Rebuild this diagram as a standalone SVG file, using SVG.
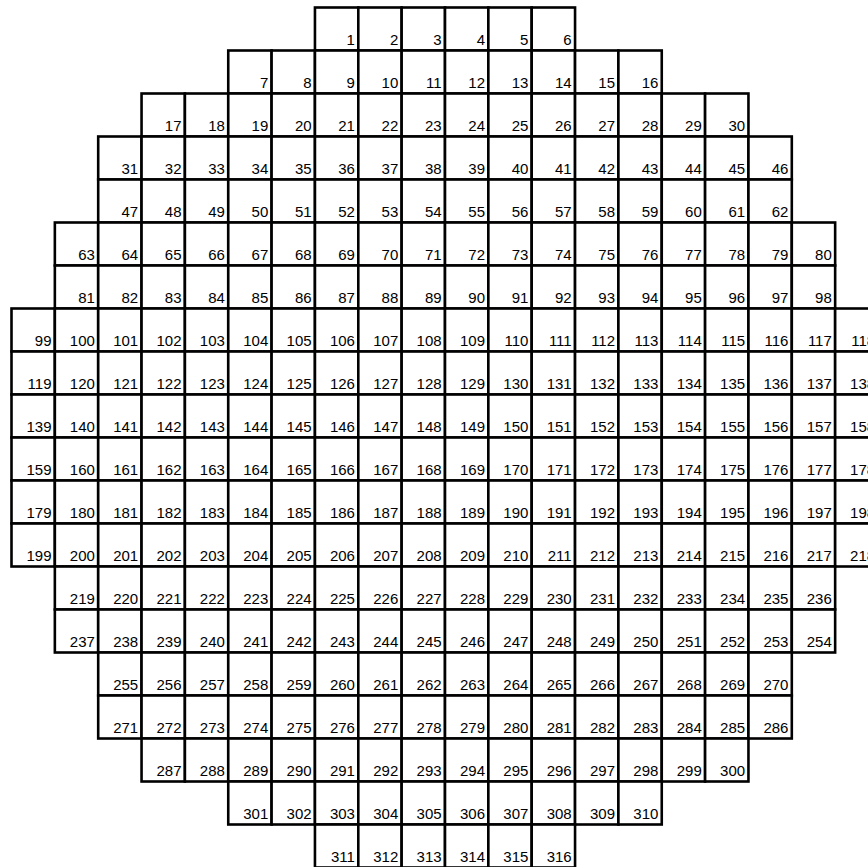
<svg xmlns="http://www.w3.org/2000/svg" width="868" height="867" viewBox="0 0 868 867">
<style>
.c text{font-family:"Liberation Sans",Arial,sans-serif;font-size:15px;fill:#000;text-anchor:end}
</style>
<defs><rect id="b" width="43.35" height="43" fill="#fff" stroke="#000" stroke-width="2.6"/></defs>
<rect width="868" height="867" fill="#fff"/>
<g id="grid" class="c">
<g id="row1" transform="translate(0,7.5)">
<g id="n1" transform="translate(314.95,0)"><use href="#b"/><text x="40" y="37">1</text></g>
<g id="n2" transform="translate(358.3,0)"><use href="#b"/><text x="40" y="37">2</text></g>
<g id="n3" transform="translate(401.65,0)"><use href="#b"/><text x="40" y="37">3</text></g>
<g id="n4" transform="translate(445,0)"><use href="#b"/><text x="40" y="37">4</text></g>
<g id="n5" transform="translate(488.35,0)"><use href="#b"/><text x="40" y="37">5</text></g>
<g id="n6" transform="translate(531.7,0)"><use href="#b"/><text x="40" y="37">6</text></g>
</g>
<g id="row2" transform="translate(0,50.5)">
<g id="n7" transform="translate(228.25,0)"><use href="#b"/><text x="40" y="37">7</text></g>
<g id="n8" transform="translate(271.6,0)"><use href="#b"/><text x="40" y="37">8</text></g>
<g id="n9" transform="translate(314.95,0)"><use href="#b"/><text x="40" y="37">9</text></g>
<g id="n10" transform="translate(358.3,0)"><use href="#b"/><text x="40" y="37">10</text></g>
<g id="n11" transform="translate(401.65,0)"><use href="#b"/><text x="40" y="37">11</text></g>
<g id="n12" transform="translate(445,0)"><use href="#b"/><text x="40" y="37">12</text></g>
<g id="n13" transform="translate(488.35,0)"><use href="#b"/><text x="40" y="37">13</text></g>
<g id="n14" transform="translate(531.7,0)"><use href="#b"/><text x="40" y="37">14</text></g>
<g id="n15" transform="translate(575.05,0)"><use href="#b"/><text x="40" y="37">15</text></g>
<g id="n16" transform="translate(618.4,0)"><use href="#b"/><text x="40" y="37">16</text></g>
</g>
<g id="row3" transform="translate(0,93.5)">
<g id="n17" transform="translate(141.55,0)"><use href="#b"/><text x="40" y="37">17</text></g>
<g id="n18" transform="translate(184.9,0)"><use href="#b"/><text x="40" y="37">18</text></g>
<g id="n19" transform="translate(228.25,0)"><use href="#b"/><text x="40" y="37">19</text></g>
<g id="n20" transform="translate(271.6,0)"><use href="#b"/><text x="40" y="37">20</text></g>
<g id="n21" transform="translate(314.95,0)"><use href="#b"/><text x="40" y="37">21</text></g>
<g id="n22" transform="translate(358.3,0)"><use href="#b"/><text x="40" y="37">22</text></g>
<g id="n23" transform="translate(401.65,0)"><use href="#b"/><text x="40" y="37">23</text></g>
<g id="n24" transform="translate(445,0)"><use href="#b"/><text x="40" y="37">24</text></g>
<g id="n25" transform="translate(488.35,0)"><use href="#b"/><text x="40" y="37">25</text></g>
<g id="n26" transform="translate(531.7,0)"><use href="#b"/><text x="40" y="37">26</text></g>
<g id="n27" transform="translate(575.05,0)"><use href="#b"/><text x="40" y="37">27</text></g>
<g id="n28" transform="translate(618.4,0)"><use href="#b"/><text x="40" y="37">28</text></g>
<g id="n29" transform="translate(661.75,0)"><use href="#b"/><text x="40" y="37">29</text></g>
<g id="n30" transform="translate(705.1,0)"><use href="#b"/><text x="40" y="37">30</text></g>
</g>
<g id="row4" transform="translate(0,136.5)">
<g id="n31" transform="translate(98.2,0)"><use href="#b"/><text x="40" y="37">31</text></g>
<g id="n32" transform="translate(141.55,0)"><use href="#b"/><text x="40" y="37">32</text></g>
<g id="n33" transform="translate(184.9,0)"><use href="#b"/><text x="40" y="37">33</text></g>
<g id="n34" transform="translate(228.25,0)"><use href="#b"/><text x="40" y="37">34</text></g>
<g id="n35" transform="translate(271.6,0)"><use href="#b"/><text x="40" y="37">35</text></g>
<g id="n36" transform="translate(314.95,0)"><use href="#b"/><text x="40" y="37">36</text></g>
<g id="n37" transform="translate(358.3,0)"><use href="#b"/><text x="40" y="37">37</text></g>
<g id="n38" transform="translate(401.65,0)"><use href="#b"/><text x="40" y="37">38</text></g>
<g id="n39" transform="translate(445,0)"><use href="#b"/><text x="40" y="37">39</text></g>
<g id="n40" transform="translate(488.35,0)"><use href="#b"/><text x="40" y="37">40</text></g>
<g id="n41" transform="translate(531.7,0)"><use href="#b"/><text x="40" y="37">41</text></g>
<g id="n42" transform="translate(575.05,0)"><use href="#b"/><text x="40" y="37">42</text></g>
<g id="n43" transform="translate(618.4,0)"><use href="#b"/><text x="40" y="37">43</text></g>
<g id="n44" transform="translate(661.75,0)"><use href="#b"/><text x="40" y="37">44</text></g>
<g id="n45" transform="translate(705.1,0)"><use href="#b"/><text x="40" y="37">45</text></g>
<g id="n46" transform="translate(748.45,0)"><use href="#b"/><text x="40" y="37">46</text></g>
</g>
<g id="row5" transform="translate(0,179.5)">
<g id="n47" transform="translate(98.2,0)"><use href="#b"/><text x="40" y="37">47</text></g>
<g id="n48" transform="translate(141.55,0)"><use href="#b"/><text x="40" y="37">48</text></g>
<g id="n49" transform="translate(184.9,0)"><use href="#b"/><text x="40" y="37">49</text></g>
<g id="n50" transform="translate(228.25,0)"><use href="#b"/><text x="40" y="37">50</text></g>
<g id="n51" transform="translate(271.6,0)"><use href="#b"/><text x="40" y="37">51</text></g>
<g id="n52" transform="translate(314.95,0)"><use href="#b"/><text x="40" y="37">52</text></g>
<g id="n53" transform="translate(358.3,0)"><use href="#b"/><text x="40" y="37">53</text></g>
<g id="n54" transform="translate(401.65,0)"><use href="#b"/><text x="40" y="37">54</text></g>
<g id="n55" transform="translate(445,0)"><use href="#b"/><text x="40" y="37">55</text></g>
<g id="n56" transform="translate(488.35,0)"><use href="#b"/><text x="40" y="37">56</text></g>
<g id="n57" transform="translate(531.7,0)"><use href="#b"/><text x="40" y="37">57</text></g>
<g id="n58" transform="translate(575.05,0)"><use href="#b"/><text x="40" y="37">58</text></g>
<g id="n59" transform="translate(618.4,0)"><use href="#b"/><text x="40" y="37">59</text></g>
<g id="n60" transform="translate(661.75,0)"><use href="#b"/><text x="40" y="37">60</text></g>
<g id="n61" transform="translate(705.1,0)"><use href="#b"/><text x="40" y="37">61</text></g>
<g id="n62" transform="translate(748.45,0)"><use href="#b"/><text x="40" y="37">62</text></g>
</g>
<g id="row6" transform="translate(0,222.5)">
<g id="n63" transform="translate(54.85,0)"><use href="#b"/><text x="40" y="37">63</text></g>
<g id="n64" transform="translate(98.2,0)"><use href="#b"/><text x="40" y="37">64</text></g>
<g id="n65" transform="translate(141.55,0)"><use href="#b"/><text x="40" y="37">65</text></g>
<g id="n66" transform="translate(184.9,0)"><use href="#b"/><text x="40" y="37">66</text></g>
<g id="n67" transform="translate(228.25,0)"><use href="#b"/><text x="40" y="37">67</text></g>
<g id="n68" transform="translate(271.6,0)"><use href="#b"/><text x="40" y="37">68</text></g>
<g id="n69" transform="translate(314.95,0)"><use href="#b"/><text x="40" y="37">69</text></g>
<g id="n70" transform="translate(358.3,0)"><use href="#b"/><text x="40" y="37">70</text></g>
<g id="n71" transform="translate(401.65,0)"><use href="#b"/><text x="40" y="37">71</text></g>
<g id="n72" transform="translate(445,0)"><use href="#b"/><text x="40" y="37">72</text></g>
<g id="n73" transform="translate(488.35,0)"><use href="#b"/><text x="40" y="37">73</text></g>
<g id="n74" transform="translate(531.7,0)"><use href="#b"/><text x="40" y="37">74</text></g>
<g id="n75" transform="translate(575.05,0)"><use href="#b"/><text x="40" y="37">75</text></g>
<g id="n76" transform="translate(618.4,0)"><use href="#b"/><text x="40" y="37">76</text></g>
<g id="n77" transform="translate(661.75,0)"><use href="#b"/><text x="40" y="37">77</text></g>
<g id="n78" transform="translate(705.1,0)"><use href="#b"/><text x="40" y="37">78</text></g>
<g id="n79" transform="translate(748.45,0)"><use href="#b"/><text x="40" y="37">79</text></g>
<g id="n80" transform="translate(791.8,0)"><use href="#b"/><text x="40" y="37">80</text></g>
</g>
<g id="row7" transform="translate(0,265.5)">
<g id="n81" transform="translate(54.85,0)"><use href="#b"/><text x="40" y="37">81</text></g>
<g id="n82" transform="translate(98.2,0)"><use href="#b"/><text x="40" y="37">82</text></g>
<g id="n83" transform="translate(141.55,0)"><use href="#b"/><text x="40" y="37">83</text></g>
<g id="n84" transform="translate(184.9,0)"><use href="#b"/><text x="40" y="37">84</text></g>
<g id="n85" transform="translate(228.25,0)"><use href="#b"/><text x="40" y="37">85</text></g>
<g id="n86" transform="translate(271.6,0)"><use href="#b"/><text x="40" y="37">86</text></g>
<g id="n87" transform="translate(314.95,0)"><use href="#b"/><text x="40" y="37">87</text></g>
<g id="n88" transform="translate(358.3,0)"><use href="#b"/><text x="40" y="37">88</text></g>
<g id="n89" transform="translate(401.65,0)"><use href="#b"/><text x="40" y="37">89</text></g>
<g id="n90" transform="translate(445,0)"><use href="#b"/><text x="40" y="37">90</text></g>
<g id="n91" transform="translate(488.35,0)"><use href="#b"/><text x="40" y="37">91</text></g>
<g id="n92" transform="translate(531.7,0)"><use href="#b"/><text x="40" y="37">92</text></g>
<g id="n93" transform="translate(575.05,0)"><use href="#b"/><text x="40" y="37">93</text></g>
<g id="n94" transform="translate(618.4,0)"><use href="#b"/><text x="40" y="37">94</text></g>
<g id="n95" transform="translate(661.75,0)"><use href="#b"/><text x="40" y="37">95</text></g>
<g id="n96" transform="translate(705.1,0)"><use href="#b"/><text x="40" y="37">96</text></g>
<g id="n97" transform="translate(748.45,0)"><use href="#b"/><text x="40" y="37">97</text></g>
<g id="n98" transform="translate(791.8,0)"><use href="#b"/><text x="40" y="37">98</text></g>
</g>
<g id="row8" transform="translate(0,308.5)">
<g id="n99" transform="translate(11.5,0)"><use href="#b"/><text x="40" y="37">99</text></g>
<g id="n100" transform="translate(54.85,0)"><use href="#b"/><text x="40" y="37">100</text></g>
<g id="n101" transform="translate(98.2,0)"><use href="#b"/><text x="40" y="37">101</text></g>
<g id="n102" transform="translate(141.55,0)"><use href="#b"/><text x="40" y="37">102</text></g>
<g id="n103" transform="translate(184.9,0)"><use href="#b"/><text x="40" y="37">103</text></g>
<g id="n104" transform="translate(228.25,0)"><use href="#b"/><text x="40" y="37">104</text></g>
<g id="n105" transform="translate(271.6,0)"><use href="#b"/><text x="40" y="37">105</text></g>
<g id="n106" transform="translate(314.95,0)"><use href="#b"/><text x="40" y="37">106</text></g>
<g id="n107" transform="translate(358.3,0)"><use href="#b"/><text x="40" y="37">107</text></g>
<g id="n108" transform="translate(401.65,0)"><use href="#b"/><text x="40" y="37">108</text></g>
<g id="n109" transform="translate(445,0)"><use href="#b"/><text x="40" y="37">109</text></g>
<g id="n110" transform="translate(488.35,0)"><use href="#b"/><text x="40" y="37">110</text></g>
<g id="n111" transform="translate(531.7,0)"><use href="#b"/><text x="40" y="37">111</text></g>
<g id="n112" transform="translate(575.05,0)"><use href="#b"/><text x="40" y="37">112</text></g>
<g id="n113" transform="translate(618.4,0)"><use href="#b"/><text x="40" y="37">113</text></g>
<g id="n114" transform="translate(661.75,0)"><use href="#b"/><text x="40" y="37">114</text></g>
<g id="n115" transform="translate(705.1,0)"><use href="#b"/><text x="40" y="37">115</text></g>
<g id="n116" transform="translate(748.45,0)"><use href="#b"/><text x="40" y="37">116</text></g>
<g id="n117" transform="translate(791.8,0)"><use href="#b"/><text x="40" y="37">117</text></g>
<g id="n118" transform="translate(835.15,0)"><use href="#b"/><text x="40" y="37">118</text></g>
</g>
<g id="row9" transform="translate(0,351.5)">
<g id="n119" transform="translate(11.5,0)"><use href="#b"/><text x="40" y="37">119</text></g>
<g id="n120" transform="translate(54.85,0)"><use href="#b"/><text x="40" y="37">120</text></g>
<g id="n121" transform="translate(98.2,0)"><use href="#b"/><text x="40" y="37">121</text></g>
<g id="n122" transform="translate(141.55,0)"><use href="#b"/><text x="40" y="37">122</text></g>
<g id="n123" transform="translate(184.9,0)"><use href="#b"/><text x="40" y="37">123</text></g>
<g id="n124" transform="translate(228.25,0)"><use href="#b"/><text x="40" y="37">124</text></g>
<g id="n125" transform="translate(271.6,0)"><use href="#b"/><text x="40" y="37">125</text></g>
<g id="n126" transform="translate(314.95,0)"><use href="#b"/><text x="40" y="37">126</text></g>
<g id="n127" transform="translate(358.3,0)"><use href="#b"/><text x="40" y="37">127</text></g>
<g id="n128" transform="translate(401.65,0)"><use href="#b"/><text x="40" y="37">128</text></g>
<g id="n129" transform="translate(445,0)"><use href="#b"/><text x="40" y="37">129</text></g>
<g id="n130" transform="translate(488.35,0)"><use href="#b"/><text x="40" y="37">130</text></g>
<g id="n131" transform="translate(531.7,0)"><use href="#b"/><text x="40" y="37">131</text></g>
<g id="n132" transform="translate(575.05,0)"><use href="#b"/><text x="40" y="37">132</text></g>
<g id="n133" transform="translate(618.4,0)"><use href="#b"/><text x="40" y="37">133</text></g>
<g id="n134" transform="translate(661.75,0)"><use href="#b"/><text x="40" y="37">134</text></g>
<g id="n135" transform="translate(705.1,0)"><use href="#b"/><text x="40" y="37">135</text></g>
<g id="n136" transform="translate(748.45,0)"><use href="#b"/><text x="40" y="37">136</text></g>
<g id="n137" transform="translate(791.8,0)"><use href="#b"/><text x="40" y="37">137</text></g>
<g id="n138" transform="translate(835.15,0)"><use href="#b"/><text x="40" y="37">138</text></g>
</g>
<g id="row10" transform="translate(0,394.5)">
<g id="n139" transform="translate(11.5,0)"><use href="#b"/><text x="40" y="37">139</text></g>
<g id="n140" transform="translate(54.85,0)"><use href="#b"/><text x="40" y="37">140</text></g>
<g id="n141" transform="translate(98.2,0)"><use href="#b"/><text x="40" y="37">141</text></g>
<g id="n142" transform="translate(141.55,0)"><use href="#b"/><text x="40" y="37">142</text></g>
<g id="n143" transform="translate(184.9,0)"><use href="#b"/><text x="40" y="37">143</text></g>
<g id="n144" transform="translate(228.25,0)"><use href="#b"/><text x="40" y="37">144</text></g>
<g id="n145" transform="translate(271.6,0)"><use href="#b"/><text x="40" y="37">145</text></g>
<g id="n146" transform="translate(314.95,0)"><use href="#b"/><text x="40" y="37">146</text></g>
<g id="n147" transform="translate(358.3,0)"><use href="#b"/><text x="40" y="37">147</text></g>
<g id="n148" transform="translate(401.65,0)"><use href="#b"/><text x="40" y="37">148</text></g>
<g id="n149" transform="translate(445,0)"><use href="#b"/><text x="40" y="37">149</text></g>
<g id="n150" transform="translate(488.35,0)"><use href="#b"/><text x="40" y="37">150</text></g>
<g id="n151" transform="translate(531.7,0)"><use href="#b"/><text x="40" y="37">151</text></g>
<g id="n152" transform="translate(575.05,0)"><use href="#b"/><text x="40" y="37">152</text></g>
<g id="n153" transform="translate(618.4,0)"><use href="#b"/><text x="40" y="37">153</text></g>
<g id="n154" transform="translate(661.75,0)"><use href="#b"/><text x="40" y="37">154</text></g>
<g id="n155" transform="translate(705.1,0)"><use href="#b"/><text x="40" y="37">155</text></g>
<g id="n156" transform="translate(748.45,0)"><use href="#b"/><text x="40" y="37">156</text></g>
<g id="n157" transform="translate(791.8,0)"><use href="#b"/><text x="40" y="37">157</text></g>
<g id="n158" transform="translate(835.15,0)"><use href="#b"/><text x="40" y="37">158</text></g>
</g>
<g id="row11" transform="translate(0,437.5)">
<g id="n159" transform="translate(11.5,0)"><use href="#b"/><text x="40" y="37">159</text></g>
<g id="n160" transform="translate(54.85,0)"><use href="#b"/><text x="40" y="37">160</text></g>
<g id="n161" transform="translate(98.2,0)"><use href="#b"/><text x="40" y="37">161</text></g>
<g id="n162" transform="translate(141.55,0)"><use href="#b"/><text x="40" y="37">162</text></g>
<g id="n163" transform="translate(184.9,0)"><use href="#b"/><text x="40" y="37">163</text></g>
<g id="n164" transform="translate(228.25,0)"><use href="#b"/><text x="40" y="37">164</text></g>
<g id="n165" transform="translate(271.6,0)"><use href="#b"/><text x="40" y="37">165</text></g>
<g id="n166" transform="translate(314.95,0)"><use href="#b"/><text x="40" y="37">166</text></g>
<g id="n167" transform="translate(358.3,0)"><use href="#b"/><text x="40" y="37">167</text></g>
<g id="n168" transform="translate(401.65,0)"><use href="#b"/><text x="40" y="37">168</text></g>
<g id="n169" transform="translate(445,0)"><use href="#b"/><text x="40" y="37">169</text></g>
<g id="n170" transform="translate(488.35,0)"><use href="#b"/><text x="40" y="37">170</text></g>
<g id="n171" transform="translate(531.7,0)"><use href="#b"/><text x="40" y="37">171</text></g>
<g id="n172" transform="translate(575.05,0)"><use href="#b"/><text x="40" y="37">172</text></g>
<g id="n173" transform="translate(618.4,0)"><use href="#b"/><text x="40" y="37">173</text></g>
<g id="n174" transform="translate(661.75,0)"><use href="#b"/><text x="40" y="37">174</text></g>
<g id="n175" transform="translate(705.1,0)"><use href="#b"/><text x="40" y="37">175</text></g>
<g id="n176" transform="translate(748.45,0)"><use href="#b"/><text x="40" y="37">176</text></g>
<g id="n177" transform="translate(791.8,0)"><use href="#b"/><text x="40" y="37">177</text></g>
<g id="n178" transform="translate(835.15,0)"><use href="#b"/><text x="40" y="37">178</text></g>
</g>
<g id="row12" transform="translate(0,480.5)">
<g id="n179" transform="translate(11.5,0)"><use href="#b"/><text x="40" y="37">179</text></g>
<g id="n180" transform="translate(54.85,0)"><use href="#b"/><text x="40" y="37">180</text></g>
<g id="n181" transform="translate(98.2,0)"><use href="#b"/><text x="40" y="37">181</text></g>
<g id="n182" transform="translate(141.55,0)"><use href="#b"/><text x="40" y="37">182</text></g>
<g id="n183" transform="translate(184.9,0)"><use href="#b"/><text x="40" y="37">183</text></g>
<g id="n184" transform="translate(228.25,0)"><use href="#b"/><text x="40" y="37">184</text></g>
<g id="n185" transform="translate(271.6,0)"><use href="#b"/><text x="40" y="37">185</text></g>
<g id="n186" transform="translate(314.95,0)"><use href="#b"/><text x="40" y="37">186</text></g>
<g id="n187" transform="translate(358.3,0)"><use href="#b"/><text x="40" y="37">187</text></g>
<g id="n188" transform="translate(401.65,0)"><use href="#b"/><text x="40" y="37">188</text></g>
<g id="n189" transform="translate(445,0)"><use href="#b"/><text x="40" y="37">189</text></g>
<g id="n190" transform="translate(488.35,0)"><use href="#b"/><text x="40" y="37">190</text></g>
<g id="n191" transform="translate(531.7,0)"><use href="#b"/><text x="40" y="37">191</text></g>
<g id="n192" transform="translate(575.05,0)"><use href="#b"/><text x="40" y="37">192</text></g>
<g id="n193" transform="translate(618.4,0)"><use href="#b"/><text x="40" y="37">193</text></g>
<g id="n194" transform="translate(661.75,0)"><use href="#b"/><text x="40" y="37">194</text></g>
<g id="n195" transform="translate(705.1,0)"><use href="#b"/><text x="40" y="37">195</text></g>
<g id="n196" transform="translate(748.45,0)"><use href="#b"/><text x="40" y="37">196</text></g>
<g id="n197" transform="translate(791.8,0)"><use href="#b"/><text x="40" y="37">197</text></g>
<g id="n198" transform="translate(835.15,0)"><use href="#b"/><text x="40" y="37">198</text></g>
</g>
<g id="row13" transform="translate(0,523.5)">
<g id="n199" transform="translate(11.5,0)"><use href="#b"/><text x="40" y="37">199</text></g>
<g id="n200" transform="translate(54.85,0)"><use href="#b"/><text x="40" y="37">200</text></g>
<g id="n201" transform="translate(98.2,0)"><use href="#b"/><text x="40" y="37">201</text></g>
<g id="n202" transform="translate(141.55,0)"><use href="#b"/><text x="40" y="37">202</text></g>
<g id="n203" transform="translate(184.9,0)"><use href="#b"/><text x="40" y="37">203</text></g>
<g id="n204" transform="translate(228.25,0)"><use href="#b"/><text x="40" y="37">204</text></g>
<g id="n205" transform="translate(271.6,0)"><use href="#b"/><text x="40" y="37">205</text></g>
<g id="n206" transform="translate(314.95,0)"><use href="#b"/><text x="40" y="37">206</text></g>
<g id="n207" transform="translate(358.3,0)"><use href="#b"/><text x="40" y="37">207</text></g>
<g id="n208" transform="translate(401.65,0)"><use href="#b"/><text x="40" y="37">208</text></g>
<g id="n209" transform="translate(445,0)"><use href="#b"/><text x="40" y="37">209</text></g>
<g id="n210" transform="translate(488.35,0)"><use href="#b"/><text x="40" y="37">210</text></g>
<g id="n211" transform="translate(531.7,0)"><use href="#b"/><text x="40" y="37">211</text></g>
<g id="n212" transform="translate(575.05,0)"><use href="#b"/><text x="40" y="37">212</text></g>
<g id="n213" transform="translate(618.4,0)"><use href="#b"/><text x="40" y="37">213</text></g>
<g id="n214" transform="translate(661.75,0)"><use href="#b"/><text x="40" y="37">214</text></g>
<g id="n215" transform="translate(705.1,0)"><use href="#b"/><text x="40" y="37">215</text></g>
<g id="n216" transform="translate(748.45,0)"><use href="#b"/><text x="40" y="37">216</text></g>
<g id="n217" transform="translate(791.8,0)"><use href="#b"/><text x="40" y="37">217</text></g>
<g id="n218" transform="translate(835.15,0)"><use href="#b"/><text x="40" y="37">218</text></g>
</g>
<g id="row14" transform="translate(0,566.5)">
<g id="n219" transform="translate(54.85,0)"><use href="#b"/><text x="40" y="37">219</text></g>
<g id="n220" transform="translate(98.2,0)"><use href="#b"/><text x="40" y="37">220</text></g>
<g id="n221" transform="translate(141.55,0)"><use href="#b"/><text x="40" y="37">221</text></g>
<g id="n222" transform="translate(184.9,0)"><use href="#b"/><text x="40" y="37">222</text></g>
<g id="n223" transform="translate(228.25,0)"><use href="#b"/><text x="40" y="37">223</text></g>
<g id="n224" transform="translate(271.6,0)"><use href="#b"/><text x="40" y="37">224</text></g>
<g id="n225" transform="translate(314.95,0)"><use href="#b"/><text x="40" y="37">225</text></g>
<g id="n226" transform="translate(358.3,0)"><use href="#b"/><text x="40" y="37">226</text></g>
<g id="n227" transform="translate(401.65,0)"><use href="#b"/><text x="40" y="37">227</text></g>
<g id="n228" transform="translate(445,0)"><use href="#b"/><text x="40" y="37">228</text></g>
<g id="n229" transform="translate(488.35,0)"><use href="#b"/><text x="40" y="37">229</text></g>
<g id="n230" transform="translate(531.7,0)"><use href="#b"/><text x="40" y="37">230</text></g>
<g id="n231" transform="translate(575.05,0)"><use href="#b"/><text x="40" y="37">231</text></g>
<g id="n232" transform="translate(618.4,0)"><use href="#b"/><text x="40" y="37">232</text></g>
<g id="n233" transform="translate(661.75,0)"><use href="#b"/><text x="40" y="37">233</text></g>
<g id="n234" transform="translate(705.1,0)"><use href="#b"/><text x="40" y="37">234</text></g>
<g id="n235" transform="translate(748.45,0)"><use href="#b"/><text x="40" y="37">235</text></g>
<g id="n236" transform="translate(791.8,0)"><use href="#b"/><text x="40" y="37">236</text></g>
</g>
<g id="row15" transform="translate(0,609.5)">
<g id="n237" transform="translate(54.85,0)"><use href="#b"/><text x="40" y="37">237</text></g>
<g id="n238" transform="translate(98.2,0)"><use href="#b"/><text x="40" y="37">238</text></g>
<g id="n239" transform="translate(141.55,0)"><use href="#b"/><text x="40" y="37">239</text></g>
<g id="n240" transform="translate(184.9,0)"><use href="#b"/><text x="40" y="37">240</text></g>
<g id="n241" transform="translate(228.25,0)"><use href="#b"/><text x="40" y="37">241</text></g>
<g id="n242" transform="translate(271.6,0)"><use href="#b"/><text x="40" y="37">242</text></g>
<g id="n243" transform="translate(314.95,0)"><use href="#b"/><text x="40" y="37">243</text></g>
<g id="n244" transform="translate(358.3,0)"><use href="#b"/><text x="40" y="37">244</text></g>
<g id="n245" transform="translate(401.65,0)"><use href="#b"/><text x="40" y="37">245</text></g>
<g id="n246" transform="translate(445,0)"><use href="#b"/><text x="40" y="37">246</text></g>
<g id="n247" transform="translate(488.35,0)"><use href="#b"/><text x="40" y="37">247</text></g>
<g id="n248" transform="translate(531.7,0)"><use href="#b"/><text x="40" y="37">248</text></g>
<g id="n249" transform="translate(575.05,0)"><use href="#b"/><text x="40" y="37">249</text></g>
<g id="n250" transform="translate(618.4,0)"><use href="#b"/><text x="40" y="37">250</text></g>
<g id="n251" transform="translate(661.75,0)"><use href="#b"/><text x="40" y="37">251</text></g>
<g id="n252" transform="translate(705.1,0)"><use href="#b"/><text x="40" y="37">252</text></g>
<g id="n253" transform="translate(748.45,0)"><use href="#b"/><text x="40" y="37">253</text></g>
<g id="n254" transform="translate(791.8,0)"><use href="#b"/><text x="40" y="37">254</text></g>
</g>
<g id="row16" transform="translate(0,652.5)">
<g id="n255" transform="translate(98.2,0)"><use href="#b"/><text x="40" y="37">255</text></g>
<g id="n256" transform="translate(141.55,0)"><use href="#b"/><text x="40" y="37">256</text></g>
<g id="n257" transform="translate(184.9,0)"><use href="#b"/><text x="40" y="37">257</text></g>
<g id="n258" transform="translate(228.25,0)"><use href="#b"/><text x="40" y="37">258</text></g>
<g id="n259" transform="translate(271.6,0)"><use href="#b"/><text x="40" y="37">259</text></g>
<g id="n260" transform="translate(314.95,0)"><use href="#b"/><text x="40" y="37">260</text></g>
<g id="n261" transform="translate(358.3,0)"><use href="#b"/><text x="40" y="37">261</text></g>
<g id="n262" transform="translate(401.65,0)"><use href="#b"/><text x="40" y="37">262</text></g>
<g id="n263" transform="translate(445,0)"><use href="#b"/><text x="40" y="37">263</text></g>
<g id="n264" transform="translate(488.35,0)"><use href="#b"/><text x="40" y="37">264</text></g>
<g id="n265" transform="translate(531.7,0)"><use href="#b"/><text x="40" y="37">265</text></g>
<g id="n266" transform="translate(575.05,0)"><use href="#b"/><text x="40" y="37">266</text></g>
<g id="n267" transform="translate(618.4,0)"><use href="#b"/><text x="40" y="37">267</text></g>
<g id="n268" transform="translate(661.75,0)"><use href="#b"/><text x="40" y="37">268</text></g>
<g id="n269" transform="translate(705.1,0)"><use href="#b"/><text x="40" y="37">269</text></g>
<g id="n270" transform="translate(748.45,0)"><use href="#b"/><text x="40" y="37">270</text></g>
</g>
<g id="row17" transform="translate(0,695.5)">
<g id="n271" transform="translate(98.2,0)"><use href="#b"/><text x="40" y="37">271</text></g>
<g id="n272" transform="translate(141.55,0)"><use href="#b"/><text x="40" y="37">272</text></g>
<g id="n273" transform="translate(184.9,0)"><use href="#b"/><text x="40" y="37">273</text></g>
<g id="n274" transform="translate(228.25,0)"><use href="#b"/><text x="40" y="37">274</text></g>
<g id="n275" transform="translate(271.6,0)"><use href="#b"/><text x="40" y="37">275</text></g>
<g id="n276" transform="translate(314.95,0)"><use href="#b"/><text x="40" y="37">276</text></g>
<g id="n277" transform="translate(358.3,0)"><use href="#b"/><text x="40" y="37">277</text></g>
<g id="n278" transform="translate(401.65,0)"><use href="#b"/><text x="40" y="37">278</text></g>
<g id="n279" transform="translate(445,0)"><use href="#b"/><text x="40" y="37">279</text></g>
<g id="n280" transform="translate(488.35,0)"><use href="#b"/><text x="40" y="37">280</text></g>
<g id="n281" transform="translate(531.7,0)"><use href="#b"/><text x="40" y="37">281</text></g>
<g id="n282" transform="translate(575.05,0)"><use href="#b"/><text x="40" y="37">282</text></g>
<g id="n283" transform="translate(618.4,0)"><use href="#b"/><text x="40" y="37">283</text></g>
<g id="n284" transform="translate(661.75,0)"><use href="#b"/><text x="40" y="37">284</text></g>
<g id="n285" transform="translate(705.1,0)"><use href="#b"/><text x="40" y="37">285</text></g>
<g id="n286" transform="translate(748.45,0)"><use href="#b"/><text x="40" y="37">286</text></g>
</g>
<g id="row18" transform="translate(0,738.5)">
<g id="n287" transform="translate(141.55,0)"><use href="#b"/><text x="40" y="37">287</text></g>
<g id="n288" transform="translate(184.9,0)"><use href="#b"/><text x="40" y="37">288</text></g>
<g id="n289" transform="translate(228.25,0)"><use href="#b"/><text x="40" y="37">289</text></g>
<g id="n290" transform="translate(271.6,0)"><use href="#b"/><text x="40" y="37">290</text></g>
<g id="n291" transform="translate(314.95,0)"><use href="#b"/><text x="40" y="37">291</text></g>
<g id="n292" transform="translate(358.3,0)"><use href="#b"/><text x="40" y="37">292</text></g>
<g id="n293" transform="translate(401.65,0)"><use href="#b"/><text x="40" y="37">293</text></g>
<g id="n294" transform="translate(445,0)"><use href="#b"/><text x="40" y="37">294</text></g>
<g id="n295" transform="translate(488.35,0)"><use href="#b"/><text x="40" y="37">295</text></g>
<g id="n296" transform="translate(531.7,0)"><use href="#b"/><text x="40" y="37">296</text></g>
<g id="n297" transform="translate(575.05,0)"><use href="#b"/><text x="40" y="37">297</text></g>
<g id="n298" transform="translate(618.4,0)"><use href="#b"/><text x="40" y="37">298</text></g>
<g id="n299" transform="translate(661.75,0)"><use href="#b"/><text x="40" y="37">299</text></g>
<g id="n300" transform="translate(705.1,0)"><use href="#b"/><text x="40" y="37">300</text></g>
</g>
<g id="row19" transform="translate(0,781.5)">
<g id="n301" transform="translate(228.25,0)"><use href="#b"/><text x="40" y="37">301</text></g>
<g id="n302" transform="translate(271.6,0)"><use href="#b"/><text x="40" y="37">302</text></g>
<g id="n303" transform="translate(314.95,0)"><use href="#b"/><text x="40" y="37">303</text></g>
<g id="n304" transform="translate(358.3,0)"><use href="#b"/><text x="40" y="37">304</text></g>
<g id="n305" transform="translate(401.65,0)"><use href="#b"/><text x="40" y="37">305</text></g>
<g id="n306" transform="translate(445,0)"><use href="#b"/><text x="40" y="37">306</text></g>
<g id="n307" transform="translate(488.35,0)"><use href="#b"/><text x="40" y="37">307</text></g>
<g id="n308" transform="translate(531.7,0)"><use href="#b"/><text x="40" y="37">308</text></g>
<g id="n309" transform="translate(575.05,0)"><use href="#b"/><text x="40" y="37">309</text></g>
<g id="n310" transform="translate(618.4,0)"><use href="#b"/><text x="40" y="37">310</text></g>
</g>
<g id="row20" transform="translate(0,824.5)">
<g id="n311" transform="translate(314.95,0)"><use href="#b"/><text x="40" y="37">311</text></g>
<g id="n312" transform="translate(358.3,0)"><use href="#b"/><text x="40" y="37">312</text></g>
<g id="n313" transform="translate(401.65,0)"><use href="#b"/><text x="40" y="37">313</text></g>
<g id="n314" transform="translate(445,0)"><use href="#b"/><text x="40" y="37">314</text></g>
<g id="n315" transform="translate(488.35,0)"><use href="#b"/><text x="40" y="37">315</text></g>
<g id="n316" transform="translate(531.7,0)"><use href="#b"/><text x="40" y="37">316</text></g>
</g>
</g>
</svg>
